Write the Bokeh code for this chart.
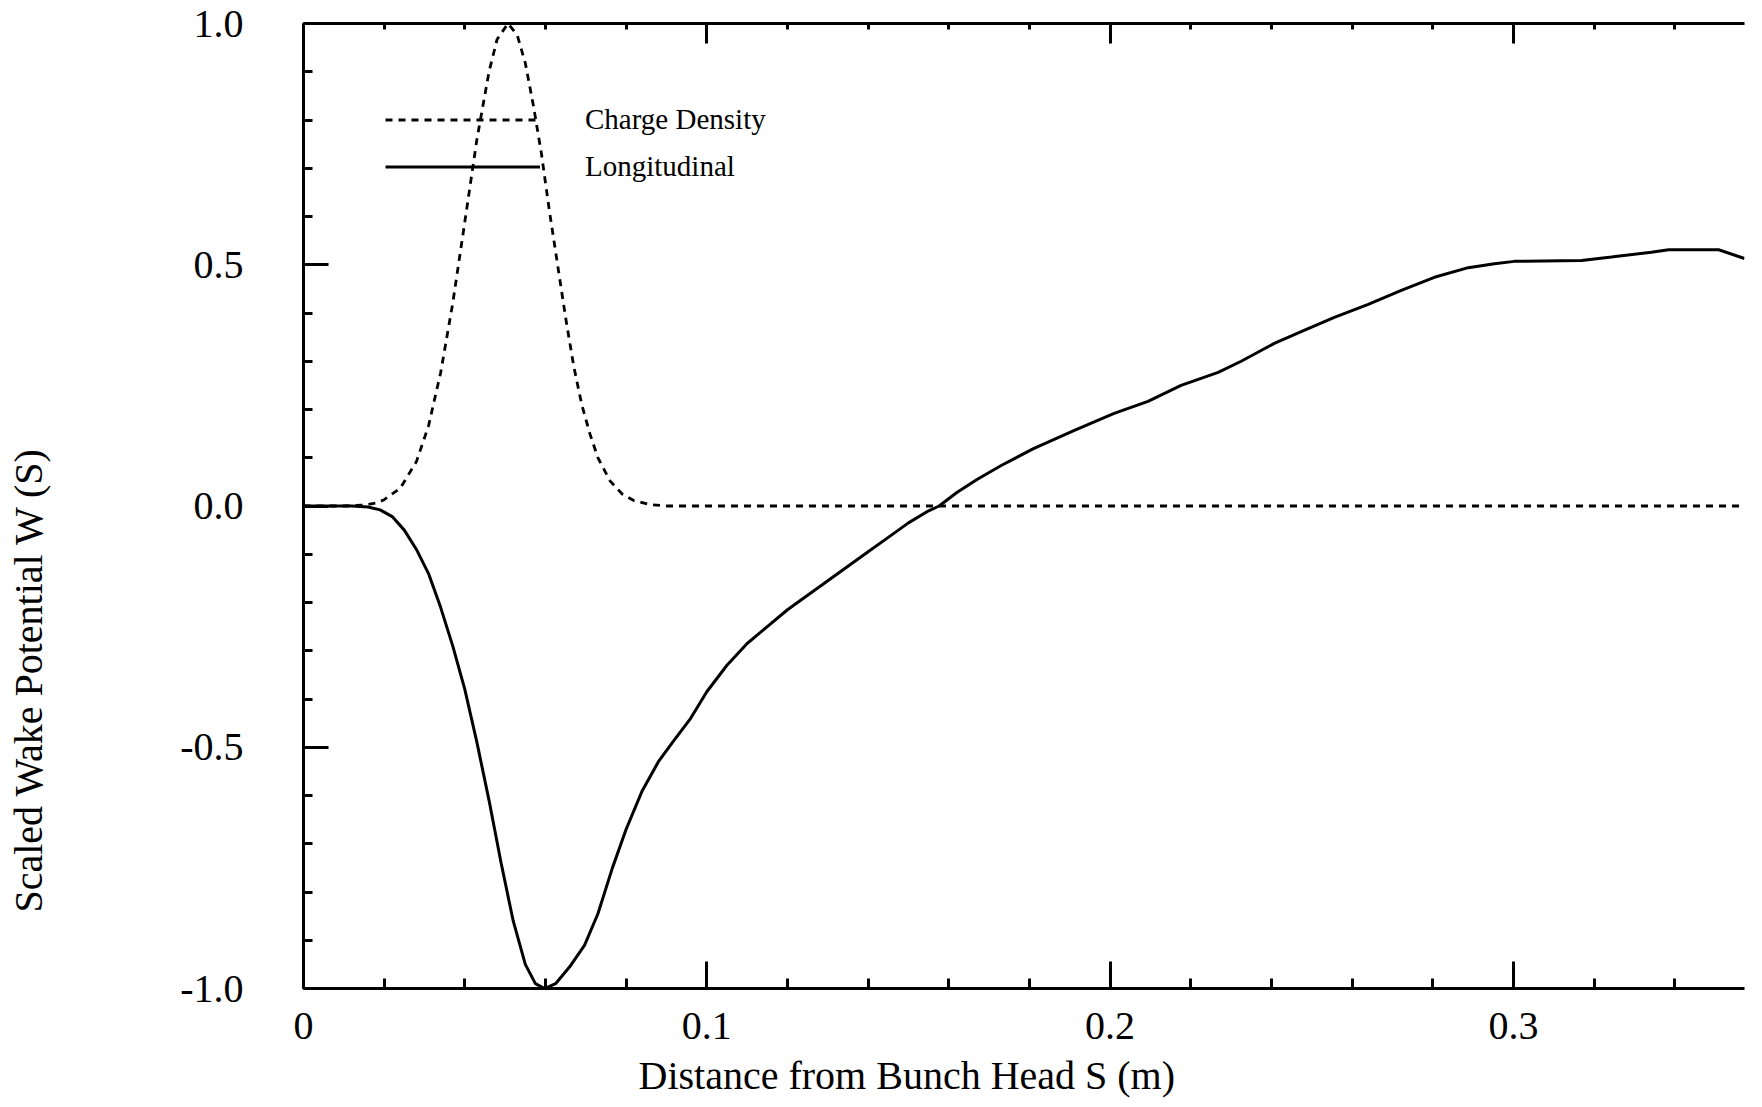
import math
import numpy as np
from bokeh.plotting import figure
from bokeh.models import (Range1d, LinearAxis, FixedTicker, Legend, LegendItem, Title)
from bokeh.embed import file_html
from bokeh.resources import INLINE

# ---------------- data ----------------
charge_x = [0.000, 0.010, 0.015, 0.018, 0.020, 0.024, 0.028, 0.031, 0.034, 0.037, 0.040,
            0.043, 0.046, 0.048, 0.0507, 0.053, 0.055, 0.057, 0.059, 0.061, 0.063,
            0.065, 0.067, 0.069, 0.071, 0.073, 0.076, 0.079, 0.082, 0.086, 0.090,
            0.100, 0.200, 0.300, 0.3573]
charge_y = [0.000, 0.000, 0.002, 0.006, 0.013, 0.037, 0.092, 0.166, 0.276, 0.420, 0.589,
            0.760, 0.900, 0.967, 1.000, 0.976, 0.918, 0.830, 0.730, 0.610, 0.500,
            0.390, 0.290, 0.210, 0.150, 0.100, 0.052, 0.025, 0.011, 0.003, 0.000,
            0.000, 0.000, 0.000, 0.000]

long_x = [0.000, 0.012, 0.016, 0.019, 0.022, 0.025, 0.028, 0.031, 0.034, 0.037, 0.040,
          0.043, 0.046, 0.049, 0.052, 0.055, 0.0575, 0.0598, 0.0625, 0.066, 0.0697,
          0.073, 0.0766, 0.080, 0.084, 0.088, 0.0915, 0.096, 0.100, 0.105, 0.110,
          0.115, 0.120, 0.125, 0.130, 0.135, 0.140, 0.145, 0.150, 0.155, 0.1576,
          0.162, 0.167, 0.173, 0.181, 0.191, 0.201, 0.2094, 0.2176, 0.2268, 0.2325,
          0.2407, 0.2481, 0.2556, 0.264, 0.2722, 0.2804, 0.2888, 0.2953, 0.3002,
          0.3169, 0.3243, 0.3342, 0.3385, 0.3509, 0.3573]
long_y = [0.000, 0.000, -0.002, -0.008, -0.022, -0.050, -0.090, -0.140, -0.210, -0.290, -0.380,
          -0.490, -0.610, -0.740, -0.860, -0.950, -0.990, -1.000, -0.990, -0.955, -0.910,
          -0.845, -0.750, -0.670, -0.590, -0.530, -0.490, -0.440, -0.385, -0.330, -0.285,
          -0.250, -0.215, -0.185, -0.155, -0.125, -0.095, -0.065, -0.035, -0.010, 0.000,
          0.028, 0.055, 0.084, 0.119, 0.156, 0.192, 0.217, 0.250, 0.277, 0.300,
          0.337, 0.364, 0.391, 0.418, 0.447, 0.474, 0.494, 0.502, 0.507,
          0.509, 0.516, 0.526, 0.531, 0.531, 0.513]

x_ticks = [0.0, 0.1, 0.2, 0.3]
x_tick_labels = ["0", "0.1", "0.2", "0.3"]
y_ticks = [-1.0, -0.5, 0.0, 0.5, 1.0]
y_tick_labels = ["-1.0", "-0.5", "0.0", "0.5", "1.0"]
series_names = ["Charge Density", "Longitudinal"]
x_title = "Distance from Bunch Head S (m)"
y_title = "Scaled Wake Potential W (S)"

FONT = "Liberation Serif"

p = figure(width=1762, height=1107,
           x_range=Range1d(0, 0.3573), y_range=Range1d(-1.0, 1.0),
           output_backend="svg", toolbar_location=None,
           x_axis_location=None, y_axis_location=None,
           min_border_left=303, min_border_right=18,
           min_border_top=23, min_border_bottom=119)
p.outline_line_color = None
p.background_fill_color = "white"
p.border_fill_color = "white"
for g in p.grid:
    g.visible = False

x_minor = [round(v, 3) for v in np.arange(0.0, 0.3573, 0.02)]
y_minor = [round(v, 3) for v in np.arange(-1.0, 1.0001, 0.1)]


def style(ax, major_in, minor_in):
    ax.axis_line_width = 3
    ax.axis_line_color = "black"
    ax.major_tick_line_width = 3
    ax.minor_tick_line_width = 3
    ax.major_tick_line_color = "black"
    ax.minor_tick_line_color = "black"
    ax.major_tick_in = major_in
    ax.major_tick_out = 0
    ax.minor_tick_in = minor_in
    ax.minor_tick_out = 0
    ax.major_label_text_font = FONT
    ax.major_label_text_font_size = "40px"
    ax.major_label_text_color = "black"


bottom = LinearAxis(ticker=FixedTicker(ticks=x_ticks, minor_ticks=x_minor))
style(bottom, 27, 10)
bottom.major_label_overrides = {t: l for t, l in zip(x_ticks, x_tick_labels)}
bottom.major_label_standoff = 24
p.add_layout(bottom, "below")

left = LinearAxis(ticker=FixedTicker(ticks=y_ticks, minor_ticks=y_minor))
style(left, 25, 9)
left.major_label_overrides = {t: l for t, l in zip(y_ticks, y_tick_labels)}
left.major_label_standoff = 60
p.add_layout(left, "left")

top = LinearAxis(ticker=FixedTicker(ticks=x_ticks, minor_ticks=x_minor))
style(top, 20, 6)
top.major_label_text_font_size = "0px"
top.major_label_standoff = 0
top.major_label_text_alpha = 0
p.add_layout(top, "above")

p.add_layout(Title(text=x_title, align="left", offset=335, standoff=18,
                   text_font=FONT, text_font_style="normal", text_font_size="40px",
                   text_color="black"), "below")

# blank spacer panel between the y tick labels and the y title
p.add_layout(Title(text=" ", standoff=124, text_font=FONT,
                   text_font_size="1px", text_color="white"), "left")
p.add_layout(Title(text=y_title, align="left", offset=76, standoff=0,
                   text_font=FONT, text_font_style="normal", text_font_size="40px",
                   text_color="black"), "left")

r_charge = p.line(charge_x, charge_y, line_color="black", line_width=2.8, line_dash="7 6")
r_long = p.line(long_x, long_y, line_color="black", line_width=3)

legend = Legend(items=[LegendItem(label=series_names[0], renderers=[r_charge]),
                       LegendItem(label=series_names[1], renderers=[r_long])],
                location=(82, 798), padding=0, margin=0, spacing=0,
                glyph_width=155, glyph_height=47, label_height=47,
                label_standoff=45, label_text_font=FONT,
                label_text_font_size="29px", label_text_color="black",
                border_line_color=None, background_fill_alpha=0)
p.add_layout(legend, "center")

open("out.html", "w").write(file_html(p, INLINE))
